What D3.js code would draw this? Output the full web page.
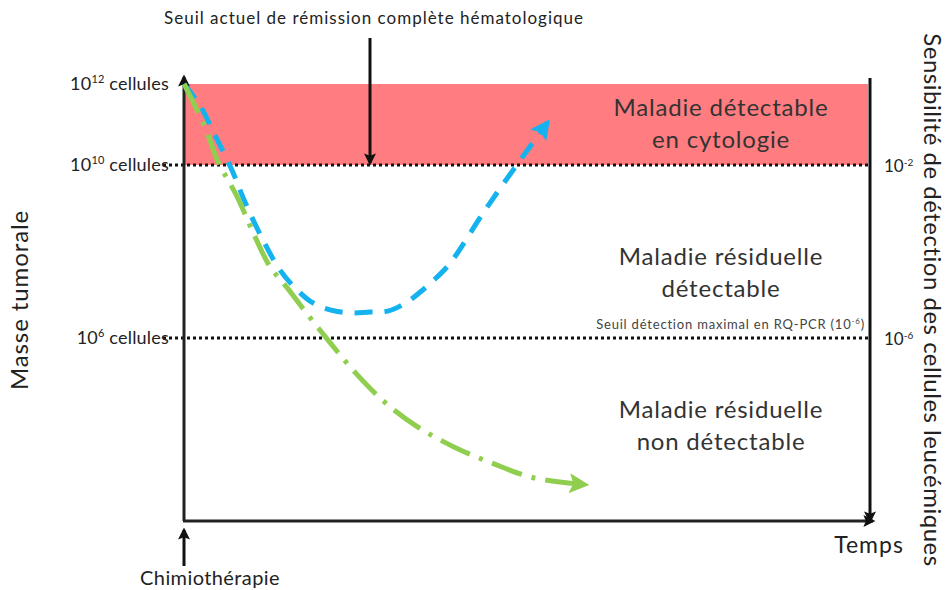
<!DOCTYPE html>
<html>
<head>
<meta charset="utf-8">
<script src="https://cdn.jsdelivr.net/npm/d3@7"></script>
<style>
  body { margin: 0; background: #fff; }
  svg { display: block; font-family: Lato, "Open Sans", sans-serif; }
</style>
</head>
<body>
<svg id="chart" width="948" height="590"></svg>
<script>
// log10(cellules) thresholds shown on the left, detection on the right
var levels = [12, 10, 6];
var leftLabels = ["12", "10", "6"];
var rightLevels = [10, 6];
var rightLabels = ["-2", "-6"];

// blue: relapse curve (time units, log10 cells)
var relapseT = [0, 2.3, 4.5, 7.0, 8.9, 11.5, 14.0, 16.5, 18.8, 21.3, 24.2, 27.1, 29.7, 32.5, 34.8, 36.9, 38.8, 43.9, 48.5, 53.0];
var relapseY = [12, 11.48, 10.74, 9.88, 9.14, 8.27, 7.57, 7.11, 6.81, 6.65, 6.58, 6.60, 6.62, 6.83, 7.11, 7.41, 7.73, 8.96, 10.0, 11.05];

// green: remission curve
var remissT = [0, 2.8, 5.0, 7.7, 10.3, 12.5, 15.2, 17.2, 21.0, 24.9, 29.3, 34.1, 39.5, 45.0, 50.9, 58.5];
var remissY = [12, 11.04, 10.07, 9.28, 8.36, 7.66, 7.13, 6.71, 5.95, 5.21, 4.51, 3.94, 3.47, 3.10, 2.77, 2.61];

var zones = [
    {lines: ["Maladie détectable", "en cytologie"], y: 11.2},
    {lines: ["Maladie résiduelle", "détectable"], y: 7.69},
    {lines: ["Maladie résiduelle", "non détectable"], y: 4.15}
];

var svg = d3.select("#chart");

var x = d3.scaleLinear().domain([0, 100]).range([184, 870]);
// schematic log axis, spacing is not the same above and below 10^10
var y = d3.scaleLinear().domain([12, 10, 6]).range([84, 165, 338]);
var yBottom = 521;

var defs = svg.append("defs");
function marker(id, color, w, h) {
    defs.append("marker")
        .attr("id", id)
        .attr("viewBox", "0 0 10 10")
        .attr("refX", 8).attr("refY", 5)
        .attr("markerUnits", "userSpaceOnUse")
        .attr("markerWidth", w).attr("markerHeight", h)
        .attr("orient", "auto")
      .append("path")
        .attr("d", "M0,0 L10,5 L0,10 L2,5 Z")
        .attr("fill", color);
}
marker("arrBlack", "#111", 13, 12);
marker("arrBlue", "#14B2EE", 20, 20);
marker("arrGreen", "#8FCE4E", 20, 20);

// red zone
svg.append("rect")
    .attr("x", x(0) + 1).attr("y", y(12))
    .attr("width", x(100) - x(0) - 3).attr("height", y(10) - y(12))
    .attr("fill", "#FF7C80");

// dotted thresholds
svg.selectAll(".thr").data([10, 6]).enter().append("line")
    .attr("x1", 163).attr("x2", x(100) - 2)
    .attr("y1", d => y(d)).attr("y2", d => y(d))
    .attr("stroke", "#111").attr("stroke-width", 3)
    .attr("stroke-dasharray", "3,3");

// axes
svg.append("line")
    .attr("x1", x(0)).attr("y1", yBottom).attr("x2", x(0)).attr("y2", y(12) - 7)
    .attr("stroke", "#222").attr("stroke-width", 3)
    .attr("marker-end", "url(#arrBlack)");
svg.append("line")
    .attr("x1", x(0) - 1).attr("y1", yBottom).attr("x2", x(100) + 3).attr("y2", yBottom)
    .attr("stroke", "#222").attr("stroke-width", 3)
    .attr("marker-end", "url(#arrBlack)");
svg.append("line")
    .attr("x1", x(100)).attr("y1", y(12) - 6).attr("x2", x(100)).attr("y2", yBottom)
    .attr("stroke", "#111").attr("stroke-width", 3)
    .attr("marker-end", "url(#arrBlack)");

// chimio arrow
svg.append("line")
    .attr("x1", x(0)).attr("y1", 566).attr("x2", x(0)).attr("y2", 530)
    .attr("stroke", "#111").attr("stroke-width", 3)
    .attr("marker-end", "url(#arrBlack)");

// top threshold arrow
svg.append("line")
    .attr("x1", 370).attr("y1", 38).attr("x2", 370).attr("y2", y(10) - 2)
    .attr("stroke", "#111").attr("stroke-width", 3)
    .attr("marker-end", "url(#arrBlack)");

// curves
var line = d3.line().x(d => x(d[0])).y(d => y(d[1])).curve(d3.curveCatmullRom);

var relapse = d3.zip(relapseT, relapseY);
var remiss = d3.zip(remissT, remissY);

svg.append("path").datum(relapse)
    .attr("d", line).attr("fill", "none")
    .attr("stroke", "#14B2EE").attr("stroke-width", 5)
    .attr("stroke-dasharray", "18,12")
    .attr("marker-end", "url(#arrBlue)");

svg.append("path").datum(remiss)
    .attr("d", line).attr("fill", "none")
    .attr("stroke", "#8FCE4E").attr("stroke-width", 5)
    .attr("stroke-dasharray", "32,10,4,10")
    .attr("marker-end", "url(#arrGreen)");

// left labels
var lt = svg.selectAll(".ll").data(levels).enter().append("text")
    .attr("x", 169).attr("y", d => y(d) + 6)
    .attr("text-anchor", "end")
    .attr("font-size", 18).attr("letter-spacing", 0.2).attr("fill", "#222");
lt.append("tspan").text("10");
lt.append("tspan").attr("font-size", 11).attr("dy", -7).text((d, i) => leftLabels[i]);
lt.append("tspan").attr("dy", 7).text(" cellules");

// right labels
var rt = svg.selectAll(".rl").data(rightLevels).enter().append("text")
    .attr("x", 884).attr("y", d => y(d) + 7)
    .attr("font-size", 17).attr("fill", "#222");
rt.append("tspan").text("10");
rt.append("tspan").attr("font-size", 10).attr("dy", -6).text((d, i) => rightLabels[i]);

// zone texts
zones.forEach(function (z) {
    var t = svg.append("text")
        .attr("x", 721).attr("y", y(z.y))
        .attr("text-anchor", "middle")
        .attr("font-size", 24).attr("letter-spacing", 0.8).attr("fill", "#333");
    z.lines.forEach(function (l, i) {
        t.append("tspan").attr("x", 721).attr("dy", i === 0 ? 0 : 32).text(l);
    });
});

// RQ-PCR note
var note = svg.append("text")
    .attr("x", 865).attr("y", y(6) - 9)
    .attr("text-anchor", "end")
    .attr("font-size", 13).attr("letter-spacing", 0.8).attr("fill", "#444");
note.append("tspan").text("Seuil détection maximal  en RQ-PCR (10");
note.append("tspan").attr("font-size", 8).attr("dy", -5).text("-6");
note.append("tspan").attr("dy", 5).text(")");

// titles
svg.append("text")
    .attr("x", 374).attr("y", 24)
    .attr("text-anchor", "middle")
    .attr("font-size", 17).attr("letter-spacing", 1).attr("fill", "#222")
    .text("Seuil actuel de rémission complète hématologique");

svg.append("text")
    .attr("transform", "translate(28,300) rotate(-90)")
    .attr("text-anchor", "middle")
    .attr("font-size", 24).attr("letter-spacing", 0.9).attr("fill", "#222")
    .text("Masse tumorale");

svg.append("text")
    .attr("transform", "translate(924,300) rotate(90)")
    .attr("text-anchor", "middle")
    .attr("font-size", 24).attr("letter-spacing", 0.5).attr("fill", "#222")
    .text("Sensibilité de détection des cellules leucémiques");

svg.append("text")
    .attr("x", 869).attr("y", 553)
    .attr("text-anchor", "middle")
    .attr("font-size", 23).attr("letter-spacing", 1).attr("fill", "#222")
    .text("Temps");

svg.append("text")
    .attr("x", 210).attr("y", 585)
    .attr("text-anchor", "middle")
    .attr("font-size", 20).attr("letter-spacing", 0.4).attr("fill", "#222")
    .text("Chimiothérapie");
</script>
</body>
</html>
